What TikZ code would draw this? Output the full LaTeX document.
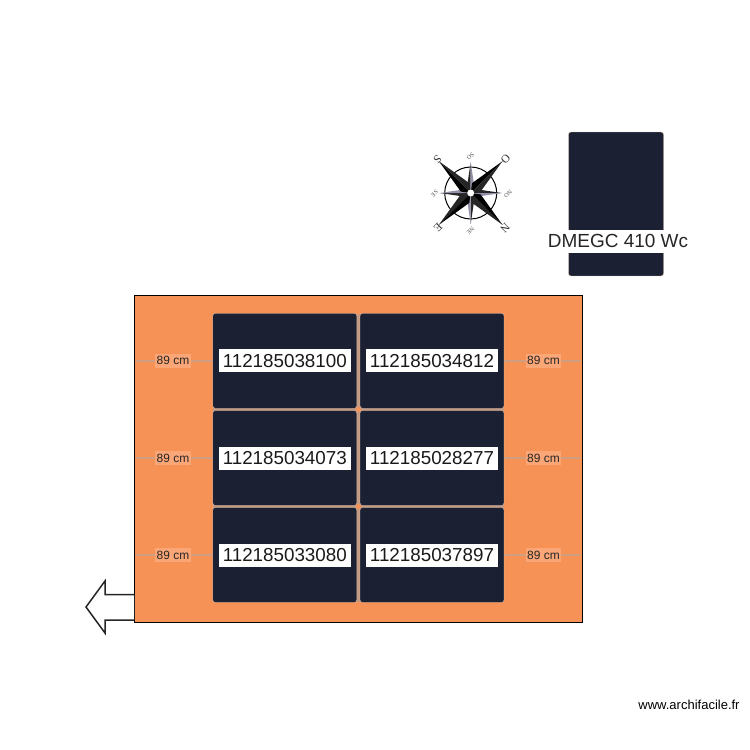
\documentclass[tikz,border=0pt]{standalone}
\usepackage{fontspec}
\setmainfont{Liberation Sans}
\newfontfamily\compassfont{Liberation Serif}
\definecolor{roofc}{RGB}{247,146,86}
\definecolor{panelc}{RGB}{27,32,51}
\definecolor{gapc}{RGB}{196,154,128}
\definecolor{linec}{RGB}{208,158,128}
\definecolor{tagc}{RGB}{250,166,118}
\definecolor{spokec}{RGB}{72,70,110}
\tikzstyle{roof}=[draw=black, fill=roofc, line width=.4pt, inner sep=0, minimum width=8.95cm, minimum height=6.54cm]
\tikzstyle{panel}=[draw=gapc!60, line width=.2pt, fill=panelc, rounded corners=.5mm, inner sep=0, minimum width=2.88cm, minimum height=1.9cm]
\tikzstyle{serial}=[fill=white, text=black!90, inner sep=0, minimum width=2.64cm, minimum height=.46cm, font=\fontsize{10.7}{12}\selectfont]
\tikzstyle{tag}=[fill=tagc, text=black!85, inner sep=0, minimum width=.71cm, minimum height=.29cm, font=\fontsize{6.8}{8}\selectfont]
\tikzstyle{cardinal}=[inner sep=0, text=black!80, font=\compassfont\fontsize{6.5}{7}\selectfont]
\tikzstyle{minor}=[inner sep=0, text=black!70, font=\compassfont\fontsize{3.4}{4}\selectfont]

\begin{document}
\begin{tikzpicture}[x=.02cm, y=-.02cm]

      \useasboundingbox (0,0) rectangle (750,750);

      \node[roof] (roof) at (358.3,458.5) {};

      % gaps between the panels
      \coordinate (gtop) at (358.5,314);
      \coordinate (gbot) at (358.5,602);
      \coordinate (g1l) at (213,409.5);
      \coordinate (g1r) at (504,409.5);
      \coordinate (g2l) at (213,506.5);
      \coordinate (g2r) at (504,506.5);
      \draw[color=gapc, line width=.7mm] (gtop) -- (gbot);
      \draw[color=gapc, line width=.7mm] (g1l) -- (g1r);
      \draw[color=gapc, line width=.7mm] (g2l) -- (g2r);

      \node[panel] (p11) at (284.8,360.8) {};
      \node[panel] (p12) at (432,360.8) {};
      \node[panel] (p21) at (284.8,458) {};
      \node[panel] (p22) at (432,458) {};
      \node[panel] (p31) at (284.8,555) {};
      \node[panel] (p32) at (432,555) {};

      \node[circle, fill=roofc, inner sep=0, minimum size=1mm] (d1) at (358.5,409.5) {};
      \node[circle, fill=roofc, inner sep=0, minimum size=1mm] (d2) at (358.5,506.5) {};

      \node[serial] (s11) at (p11) {112185038100};
      \node[serial] (s12) at (p12) {112185034812};
      \node[serial] (s21) at (p21) {112185034073};
      \node[serial] (s22) at (p22) {112185028277};
      \node[serial] (s31) at (p31) {112185033080};
      \node[serial] (s32) at (p32) {112185037897};

      % distances to the roof edge
      \foreach \r/\y in {1/360.8, 2/458, 3/555} {
        \coordinate (el\r) at (135.5,\y);
        \coordinate (er\r) at (581,\y);
        \draw[color=linec, line width=.4mm] (el\r) -- (p\r1.west);
        \draw[color=linec, line width=.4mm] (p\r2.east) -- (er\r);
        \node[tag] (tl\r) at (173,\y) {89 cm};
        \node[tag] (tr\r) at (543.5,\y) {89 cm};
      }

      % legend panel
      \node[panel, minimum width=1.9cm, minimum height=2.88cm] (model) at (616,204) {};
      \node[fill=white, inner sep=0, minimum width=1.94cm, minimum height=.46cm] (blank) at (616,241.5) {};
      \node[font=\fontsize{10.8}{12}\selectfont, text=black!85, inner sep=0] (modeltxt) at (618,241) {DMEGC 410 Wc};

      % exit arrow
      \draw[color=black!85, fill=white, line width=.3mm]
        (134,594.5) -- (105,594.5) -- (105,581) -- (86,607) -- (105,633) -- (105,620) -- (134,620);

      % compass
      \node[circle, draw=black, line width=.2mm, inner sep=0, minimum size=1.04cm] (rose) at (470.7,193) {};
      \begin{scope}[shift={(rose.center)}]
        \foreach \a in {0,90,180,270} {
          \fill[black!85, rotate=\a] (0,0) -- (-4,-4) -- (0,-31) -- cycle;
          \fill[spokec!60, rotate=\a] (0,0) -- (4,-4) -- (0,-31) -- cycle;
        }
        \foreach \a in {45,135,225,315} {
          \fill[black, rotate=\a] (0,0) -- (-6,-8) -- (0,-45) -- cycle;
          \fill[black!85, rotate=\a] (0,0) -- (6,-8) -- (0,-45) -- cycle;
        }
      \end{scope}
      \node[circle, fill=white, inner sep=0, minimum size=.14cm] (hub) at (rose) {};

      \node[cardinal, rotate=-135] (cs) at (437.5,159.5) {S};
      \node[cardinal, rotate=-135] (co) at (505.5,159.5) {O};
      \node[cardinal, rotate=-135] (cn) at (505,228) {N};
      \node[cardinal, rotate=-135] (ce) at (438,228) {E};
      \node[minor, rotate=-135] (mso) at (470.5,156.5) {SO};
      \node[minor, rotate=-135] (mno) at (508,193.5) {NO};
      \node[minor, rotate=-135] (mne) at (470.5,230.5) {NE};
      \node[minor, rotate=-135] (mse) at (434.5,193.5) {SE};

      \node[font=\fontsize{7.4}{9}\selectfont, text=black, inner sep=0] (site) at (689,705) {www.archifacile.fr};

\end{tikzpicture}
\end{document}
